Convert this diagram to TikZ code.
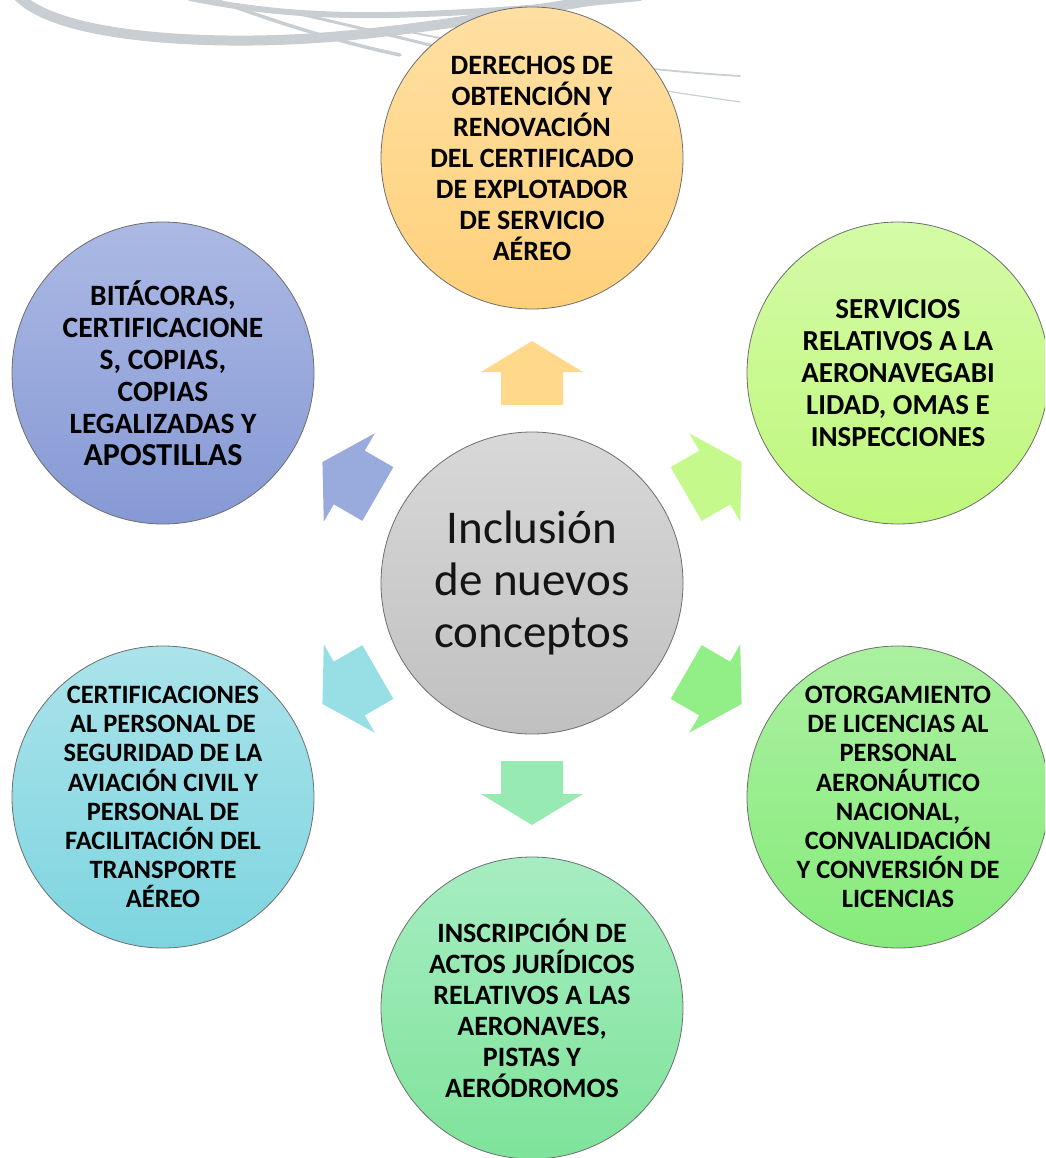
\documentclass[tikz,border=0pt]{standalone}
\usepackage{fontspec}
\setmainfont{Carlito}
\definecolor{swoosh}{HTML}{C9CED3}
\definecolor{rim}{HTML}{6E6E6E}
\definecolor{topA}{HTML}{FFE0A3}\definecolor{topB}{HTML}{FFD07A}
\definecolor{rtA}{HTML}{D4FBA6}\definecolor{rtB}{HTML}{BFF77C}
\definecolor{rbA}{HTML}{ABF0A0}\definecolor{rbB}{HTML}{86EB7B}
\definecolor{btA}{HTML}{A6EDC2}\definecolor{btB}{HTML}{7FE39A}
\definecolor{lbA}{HTML}{ABE3EA}\definecolor{lbB}{HTML}{7DD5E0}
\definecolor{ltA}{HTML}{ABB9E4}\definecolor{ltB}{HTML}{8699D5}
\definecolor{ctA}{HTML}{D8D8D8}\definecolor{ctB}{HTML}{C0C0C0}
\definecolor{arTop}{HTML}{FFD88C}
\definecolor{arRT}{HTML}{C6F98C}
\definecolor{arRB}{HTML}{92EE87}
\definecolor{arBt}{HTML}{98EAB3}
\definecolor{arLB}{HTML}{98DEE5}
\definecolor{arLT}{HTML}{99AADC}
\definecolor{ink}{HTML}{141414}
\tikzset{
  bubble/.style={circle, draw=rim, line width=0.8pt, minimum size=302pt, inner sep=0pt,
    align=center, text=black, font=\bfseries\fontsize{28}{31}\selectfont},
  blockarrow/.style={draw=none}
}
\newcommand{\blockarrowshape}{(178,-31) -- (211,-31) -- (211,-51) -- (242,0) -- (211,51) -- (211,31) -- (178,31) -- cycle}
\begin{document}
\begin{tikzpicture}[x=1pt,y=-1pt]
\useasboundingbox (0,0) rectangle (1045,1158);
\clip (0,0) rectangle (1045,1158);
% background swoosh
\begin{scope}[draw=swoosh, line cap=round]
\draw[line width=10pt] (18,-4) .. controls (60,40) and (220,46) .. (330,37) .. controls (420,30) and (520,12) .. (620,-4);
\draw[line width=6pt] (190,-2) .. controls (260,12) and (320,16) .. (390,15) .. controls (470,13) and (540,8) .. (640,-2);
\draw[line width=3.5pt] (210,-2) .. controls (270,20) and (330,40) .. (400,55);
\draw[line width=3pt] (300,14) .. controls (360,28) and (420,42) .. (480,58);
\draw[line width=1.8pt] (400,30) .. controls (520,55) and (640,70) .. (740,76);
\draw[line width=1.2pt] (560,72) .. controls (640,88) and (700,96) .. (740,102);
\end{scope}
% center
\node[bubble, top color=ctA, bottom color=ctB, text=ink, font=\fontsize{47}{52}\selectfont] (c) at (532,583) {Inclusión\\de nuevos\\conceptos};
% outer bubbles
\node[bubble, top color=topA, bottom color=topB] (t) at (532,158)
  {DERECHOS DE\\OBTENCIÓN Y\\RENOVACIÓN\\DEL CERTIFICADO\\DE EXPLOTADOR\\DE SERVICIO\\AÉREO};
\node[bubble, top color=rtA, bottom color=rtB, font=\bfseries\fontsize{29}{32}\selectfont] (rt) at (898,373)
  {SERVICIOS\\RELATIVOS A LA\\AERONAVEGABI\\LIDAD, OMAS E\\INSPECCIONES};
\node[bubble, top color=rbA, bottom color=rbB, font=\bfseries\fontsize{26.5}{29.2}\selectfont] (rb) at (898,797)
  {OTORGAMIENTO\\DE LICENCIAS AL\\PERSONAL\\AERONÁUTICO\\NACIONAL,\\CONVALIDACIÓN\\Y CONVERSIÓN DE\\LICENCIAS};
\node[bubble, top color=btA, bottom color=btB] (b) at (532,1008)
  {INSCRIPCIÓN DE\\ACTOS JURÍDICOS\\RELATIVOS A LAS\\AERONAVES,\\PISTAS Y\\AERÓDROMOS};
\node[bubble, top color=lbA, bottom color=lbB, font=\bfseries\fontsize{26.5}{29.2}\selectfont] (lb) at (163,797)
  {CERTIFICACIONES\\AL PERSONAL DE\\SEGURIDAD DE LA\\AVIACIÓN CIVIL Y\\PERSONAL DE\\FACILITACIÓN DEL\\TRANSPORTE\\AÉREO};
\node[bubble, top color=ltA, bottom color=ltB, font=\bfseries\fontsize{29.5}{32}\selectfont] (lt) at (163,373)
  {BITÁCORAS,\\CERTIFICACIONE\\S, COPIAS,\\COPIAS\\LEGALIZADAS Y\\{\fontsize{32}{35}\selectfont APOSTILLAS}};
% block arrows around the center
\fill[blockarrow, arTop, shift={(c.center)}, rotate=90] \blockarrowshape;
\fill[blockarrow, arRT, shift={(c.center)}, rotate=30] \blockarrowshape;
\fill[blockarrow, arRB, shift={(c.center)}, rotate=-30] \blockarrowshape;
\fill[blockarrow, arBt, shift={(c.center)}, rotate=-90] \blockarrowshape;
\fill[blockarrow, arLB, shift={(c.center)}, rotate=210] \blockarrowshape;
\fill[blockarrow, arLT, shift={(c.center)}, rotate=150] \blockarrowshape;
\end{tikzpicture}
\end{document}
